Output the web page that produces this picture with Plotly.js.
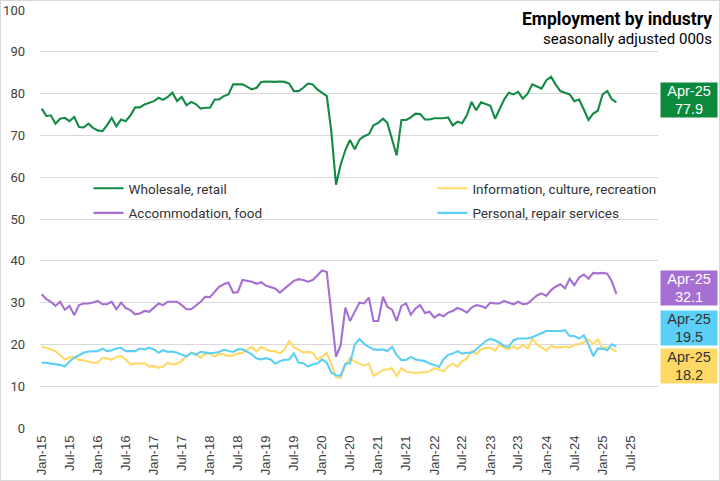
<!DOCTYPE html>
<html>
<head>
<meta charset="utf-8">
<script src="https://cdn.plot.ly/plotly-3.0.1.min.js"></script>
<style>
  html, body { margin: 0; padding: 0; background: #fff; }
  #wrap { position: relative; width: 720px; height: 481px; }
  #chart { width: 720px; height: 481px; }
  #frame { position: absolute; left: 0; top: 0; width: 720px; height: 481px; box-sizing: border-box; border: 1px solid #d9d9d9; pointer-events: none; }
</style>
</head>
<body>
<div id="wrap"><div id="chart"></div><div id="frame"></div></div>
<script>
// ---- data (thousands, seasonally adjusted), monthly from Jan-2015 to Apr-2025 ----
const startYear = 2015, startMonth = 1;

const seriesNames = ["Wholesale, retail", "Information, culture, recreation", "Accommodation, food", "Personal, repair services"];

const wholesaleRetail = [
  76.4, 74.6, 74.8, 72.8, 74.0, 74.2, 73.4, 74.4, 72.0, 71.9,
  72.8, 71.8, 71.2, 71.0, 72.4, 74.2, 72.2, 73.8, 73.4, 74.8,
  76.7, 76.7, 77.4, 77.8, 78.2, 79.0, 78.5, 79.2, 80.2, 78.2,
  79.2, 77.2, 78.0, 77.5, 76.4, 76.6, 76.6, 78.6, 78.6, 79.4,
  79.8, 82.2, 82.2, 82.2, 81.6, 81.0, 81.4, 82.8, 82.9, 82.8,
  82.8, 82.9, 82.8, 82.4, 80.6, 80.6, 81.4, 82.4, 82.2, 81.0,
  80.2, 79.4, 71.0, 58.2, 63.0, 66.5, 68.9, 66.7, 69.0, 69.8,
  70.3, 72.4, 73.0, 74.0, 73.0, 69.3, 65.2, 73.7, 73.7, 74.3,
  75.2, 75.1, 73.8, 73.8, 74.1, 74.1, 74.1, 74.3, 72.4, 73.3,
  72.9, 74.8, 78.0, 76.0, 77.9, 77.5, 77.1, 74.0, 76.2, 78.6,
  80.2, 79.8, 80.4, 78.8, 80.0, 82.2, 81.7, 81.2, 83.2, 84.0,
  82.2, 80.6, 80.2, 79.8, 78.2, 78.6, 76.2, 73.7, 75.2, 75.9,
  79.8, 80.6, 78.7, 77.9
];

const infoCultureRecreation = [
  19.5, 19.2, 18.8, 18.4, 17.5, 16.4, 16.8, 17.0, 16.3, 16.2,
  15.9, 15.6, 15.6, 16.8, 16.7, 16.3, 17.0, 17.2, 16.4, 15.2,
  15.4, 15.4, 15.5, 14.7, 14.8, 14.4, 14.7, 15.6, 15.2, 15.4,
  16.0, 17.2, 18.0, 17.8, 16.8, 17.8, 17.8, 17.1, 17.8, 17.6,
  17.2, 17.4, 17.8, 18.0, 18.8, 19.4, 18.3, 19.4, 18.8, 18.4,
  18.4, 17.8, 18.8, 20.8, 19.4, 18.8, 18.0, 18.2, 18.0, 16.4,
  17.0, 18.0, 15.0, 12.2, 12.0, 15.0, 16.8, 15.9, 15.4, 14.9,
  15.4, 12.5, 13.1, 13.9, 14.0, 14.3, 12.4, 14.3, 13.5, 13.3,
  13.1, 13.3, 13.3, 13.6, 14.3, 14.0, 13.5, 14.7, 15.4, 14.7,
  16.0, 16.6, 18.5, 17.7, 18.8, 19.1, 19.2, 18.5, 19.9, 19.2,
  18.9, 19.5, 18.9, 19.9, 19.0, 21.3, 20.0, 19.3, 18.5, 19.7,
  19.3, 19.3, 19.5, 19.3, 19.9, 20.1, 20.5, 21.2, 20.1, 21.2,
  19.0, 19.3, 19.0, 18.2
];

const accommodationFood = [
  32.0, 30.8, 30.2, 29.2, 30.2, 28.3, 29.2, 27.0, 29.4, 29.8,
  29.8, 30.0, 30.4, 29.6, 29.6, 30.2, 28.4, 30.0, 28.7, 28.2,
  27.2, 27.4, 28.0, 27.8, 28.8, 29.8, 29.4, 30.2, 30.2, 30.2,
  29.4, 28.4, 28.4, 29.2, 30.2, 31.4, 31.3, 32.6, 33.8, 34.4,
  34.8, 32.4, 32.5, 35.4, 35.2, 35.0, 34.5, 34.9, 34.0, 33.6,
  33.4, 32.4, 33.3, 34.4, 35.2, 35.6, 35.4, 35.0, 35.4, 36.5,
  37.7, 37.3, 27.0, 17.1, 19.8, 28.8, 25.6, 28.0, 30.0, 29.8,
  31.2, 25.6, 25.6, 31.4, 29.0, 28.3, 25.6, 29.2, 29.8, 27.1,
  28.6, 29.4, 27.5, 27.8, 26.4, 27.2, 26.7, 27.6, 28.0, 28.7,
  28.3, 27.6, 28.8, 29.4, 29.2, 28.7, 30.0, 29.8, 29.8, 30.4,
  30.0, 29.6, 30.2, 29.6, 29.8, 30.8, 31.7, 32.2, 31.6, 33.0,
  33.8, 34.4, 33.4, 35.7, 34.2, 36.0, 36.7, 35.7, 37.1, 37.0,
  37.1, 36.9, 35.2, 32.1
];

const personalRepair = [
  15.6, 15.6, 15.4, 15.2, 15.1, 14.7, 15.9, 16.8, 17.5, 18.0,
  18.3, 18.4, 18.4, 19.0, 18.4, 18.6, 19.0, 19.2, 18.4, 18.4,
  18.4, 19.0, 18.8, 19.2, 18.8, 18.0, 18.6, 18.2, 18.3, 18.0,
  17.5, 17.1, 18.0, 17.5, 18.2, 18.0, 17.9, 18.0, 18.2, 18.7,
  18.4, 18.2, 18.8, 18.8, 18.2, 17.6, 16.6, 16.4, 16.7, 16.4,
  15.4, 16.0, 16.3, 16.4, 17.9, 15.6, 15.5, 14.7, 15.2, 15.4,
  16.4, 15.6, 13.3, 12.6, 12.5, 15.4, 15.5, 20.0, 21.3, 20.1,
  19.4, 18.8, 18.7, 18.8, 18.4, 19.4, 17.5, 16.2, 16.3, 17.0,
  16.4, 16.2, 16.0, 15.4, 15.1, 14.6, 16.4, 17.5, 17.8, 18.4,
  17.8, 18.0, 18.0, 18.8, 19.8, 20.8, 21.3, 21.0, 20.4, 19.6,
  19.4, 21.0, 21.4, 21.4, 21.4, 21.7, 22.2, 22.8, 23.2, 23.2,
  23.2, 23.2, 23.4, 22.0, 22.0, 21.4, 22.2, 20.0, 17.2, 19.0,
  19.0, 18.6, 20.0, 19.5
];

const seriesColors = ["#138a45", "#ffd966", "#a66fd3", "#5bcff5"];
const boxColors = ["#0b8a3e", "#ffd966", "#a66fd3", "#5bcff5"];
const boxTextColors = ["#ffffff", "#333333", "#ffffff", "#333333"];
const boxShift = [2, -14, 6, 18];          // pixel nudges so end labels do not overlap
const legendSlots = ["legend", "legend2", "legend", "legend2"]; // left / right legend columns

// ---- build ----
const monthNames = ["Jan","Feb","Mar","Apr","May","Jun","Jul","Aug","Sep","Oct","Nov","Dec"];
const n = wholesaleRetail.length;
const dates = [];
for (let i = 0; i < n; i++) {
  const y = startYear + Math.floor((startMonth - 1 + i) / 12);
  const m = (startMonth - 1 + i) % 12 + 1;
  dates.push(y + "-" + String(m).padStart(2, "0") + "-01");
}
const lastLabel = (() => {
  const d = dates[n - 1];
  return monthNames[parseInt(d.slice(5, 7)) - 1] + "-" + d.slice(2, 4);
})();

const allSeries = [wholesaleRetail, infoCultureRecreation, accommodationFood, personalRepair];

const traces = allSeries.map((vals, k) => ({
  type: "scatter",
  mode: "lines",
  name: seriesNames[k],
  legend: legendSlots[k],
  legendgroup: "g" + k,
  x: dates,
  y: vals,
  line: { color: seriesColors[k], width: 2.1 },
  hoverinfo: "skip"
}));

const annotations = [
  { text: "<b>Employment by industry</b>", xref: "paper", yref: "paper",
    x: 1.0906, y: 1.0, xanchor: "right", yanchor: "middle", yshift: -9,
    showarrow: false, font: { family: "Roboto, Liberation Sans, sans-serif", size: 17.5, color: "#000" } },
  { text: "seasonally adjusted 000s", xref: "paper", yref: "paper",
    x: 1.0906, y: 1.0, xanchor: "right", yanchor: "middle", yshift: -29,
    showarrow: false, font: { family: "Roboto, Liberation Sans, sans-serif", size: 15, color: "#000" } }
];

allSeries.forEach((vals, k) => {
  annotations.push({
    xref: "paper", yref: "y",
    x: 1.0, xshift: 2, y: vals[n - 1], yshift: boxShift[k],
    xanchor: "left", yanchor: "middle",
    text: lastLabel + "<br>" + vals[n - 1].toFixed(1),
    showarrow: false,
    bgcolor: boxColors[k],
    width: 52, height: 30,
    align: "center", valign: "middle",
    borderpad: 2,
    font: { family: "Liberation Sans, Arial, sans-serif", size: 14.5, color: boxTextColors[k] }
  });
});

const legendFont = { family: "Roboto, Liberation Sans, sans-serif", size: 13.5, color: "#333333" };
const legendCommon = {
  orientation: "v", yanchor: "top", xanchor: "left",
  traceorder: "grouped", tracegroupgap: 4,
  font: legendFont, bgcolor: "rgba(0,0,0,0)", borderwidth: 0
};

const layout = {
  width: 720, height: 481,
  margin: { l: 40, r: 62, t: 10, b: 53, pad: 0 },
  paper_bgcolor: "#ffffff",
  plot_bgcolor: "#ffffff",
  showlegend: true,
  legend: Object.assign({}, legendCommon, { x: 0.0785, y: 0.61 }),
  legend2: Object.assign({}, legendCommon, { x: 0.635, y: 0.61 }),
  xaxis: {
    type: "date",
    range: ["2014-12-21", "2025-12-28"],
    tick0: "2015-01-01",
    dtick: "M6",
    tickformat: "%b-%y",
    tickangle: -90,
    showgrid: false,
    zeroline: false,
    showline: false,
    ticks: "",
    ticklabelstandoff: 4,
    tickfont: { family: "Liberation Sans, Arial, sans-serif", size: 13, color: "#404040" }
  },
  yaxis: {
    range: [0, 100],
    dtick: 10,
    showgrid: true,
    gridcolor: "#d9d9d9",
    gridwidth: 1,
    zeroline: false,
    showline: false,
    ticks: "",
    ticklabelstandoff: 14,
    tickfont: { family: "Roboto, Liberation Sans, sans-serif", size: 13, color: "#404040" }
  },
  annotations: annotations
};

Plotly.newPlot("chart", traces, layout, { displayModeBar: false, staticPlot: true });
</script>
</body>
</html>
